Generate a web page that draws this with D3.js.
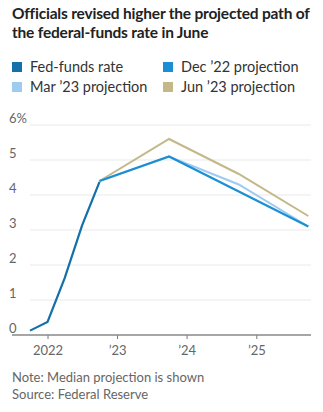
<!DOCTYPE html>
<html>
<head>
<meta charset="utf-8">
<script src="https://cdn.jsdelivr.net/npm/d3@7"></script>
<style>
  html, body { margin: 0; padding: 0; background: #fff; }
  svg { display: block; }
</style>
</head>
<body>
<svg id="chart" width="323" height="412"></svg>
<script>
// Fed-funds rate (midpoint of target range), quarterly
const fedDates = ["2021-10-01", "2022-01-01", "2022-04-01", "2022-07-01", "2022-10-01"];
const fedValues = [0.125, 0.375, 1.625, 3.125, 4.375];

// Median year-end projections, starting from the end-2022 level
const projDates = ["2022-10-01", "2023-10-01", "2024-10-01", "2025-10-01"];
const dec22Values = [4.4, 5.1, 4.1, 3.1];
const mar23Values = [4.4, 5.1, 4.3, 3.1];
const jun23Values = [4.4, 5.6, 4.6, 3.4];

const yTicks = [0, 1, 2, 3, 4, 5, 6];
const xTickDates = ["2022-01-01", "2023-01-01", "2024-01-01", "2025-01-01"];
const xTickLabels = ["2022", "\u201923", "\u201924", "\u201925"];

const legendLabels = ["Fed-funds rate", "Dec \u201922 projection", "Mar \u201923 projection", "Jun \u201923 projection"];
const colors = { fed: "#1470a8", dec: "#1b8fd3", mar: "#9ecbf0", jun: "#c3b888" };

const parse = d3.utcParse("%Y-%m-%d");
const svg = d3.select("#chart");
const FONT = "Lato, 'Open Sans', sans-serif";

// Title
const title = svg.append("text")
  .attr("x", 12).attr("y", 19)
  .style("font-family", FONT).style("font-weight", 700)
  .style("font-size", "15.5px").style("letter-spacing", "-0.2px").attr("fill", "#222");
title.append("tspan").attr("x", 12).attr("dy", 0).text("Officials revised higher the projected path of");
title.append("tspan").attr("x", 12).attr("dy", 19).text("the federal-funds rate in June");

// Legend
const legendColors = [colors.fed, colors.dec, colors.mar, colors.jun];
const legendPos = [[12, 67], [163, 67], [12, 87], [163, 87]];
legendLabels.forEach((lab, i) => {
  const [lx, ly] = legendPos[i];
  svg.append("rect").attr("x", lx).attr("y", ly - 5).attr("width", 10).attr("height", 10)
    .attr("fill", legendColors[i]);
  svg.append("text").attr("x", lx + 18).attr("y", ly + 5)
    .style("font-family", FONT).style("font-size", "14.5px").attr("fill", "#333")
    .text(lab);
});

// Scales
const x = d3.scaleUtc()
  .domain([parse("2021-10-01"), parse("2025-10-01")])
  .range([30, 308.3]);
const y = d3.scaleLinear().domain([0, 6]).range([335, 125]);

// Gridlines and y labels
const grid = svg.append("g");
yTicks.forEach(t => {
  if (t > 0) {
    grid.append("line")
      .attr("x1", 30).attr("x2", 311)
      .attr("y1", y(t)).attr("y2", y(t))
      .attr("stroke", "#e9e9e9").attr("stroke-width", 1);
  }
  grid.append("text")
    .attr("x", 9).attr("y", y(t) - 2)
    .style("font-family", FONT).style("font-size", "13px").attr("fill", "#666")
    .text(t === 6 ? "6%" : String(t));
});

// X axis
const xAxis = d3.axisBottom(x)
  .tickValues(xTickDates.map(parse))
  .tickFormat((d, i) => xTickLabels[i])
  .tickSize(4).tickSizeOuter(0).tickPadding(7);
const gx = svg.append("g").attr("transform", `translate(0,${y(0)})`).call(xAxis);
gx.select(".domain").remove();
gx.selectAll(".tick line").attr("stroke", "#777");
gx.selectAll(".tick text")
  .style("font-family", FONT).style("font-size", "13px").attr("fill", "#666");
svg.append("line")
  .attr("x1", 12).attr("x2", 311).attr("y1", y(0)).attr("y2", y(0))
  .attr("stroke", "#888").attr("stroke-width", 1.5);

// Lines
const line = d3.line().x(d => x(d[0])).y(d => y(d[1]));
const series = [
  { dates: projDates, values: jun23Values, color: colors.jun, w: 2 },
  { dates: projDates, values: mar23Values, color: colors.mar, w: 2 },
  { dates: projDates, values: dec22Values, color: colors.dec, w: 2.2 },
  { dates: fedDates, values: fedValues, color: colors.fed, w: 2.2 }
];
series.forEach(s => {
  svg.append("path")
    .datum(s.dates.map((d, i) => [parse(d), s.values[i]]))
    .attr("d", line)
    .attr("fill", "none")
    .attr("stroke", s.color)
    .attr("stroke-width", s.w)
    .attr("stroke-linejoin", "miter");
});

// Footnotes
svg.append("text").attr("x", 12).attr("y", 382)
  .style("font-family", FONT).style("font-size", "13px").attr("fill", "#666")
  .text("Note: Median projection is shown");
svg.append("text").attr("x", 12).attr("y", 399)
  .style("font-family", FONT).style("font-size", "13px").attr("fill", "#666")
  .text("Source: Federal Reserve");
</script>
</body>
</html>
